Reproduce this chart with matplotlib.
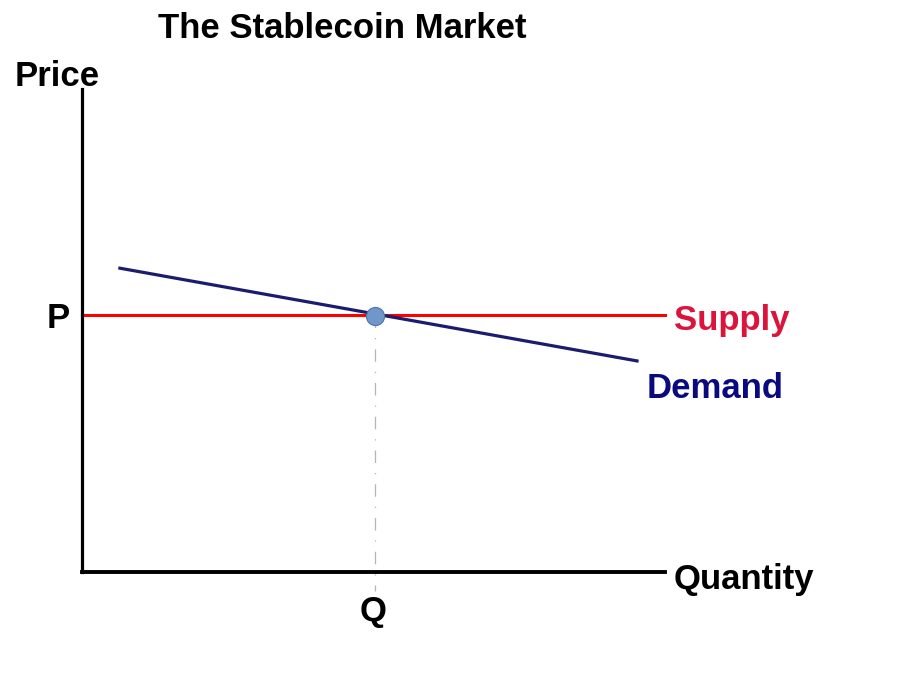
import matplotlib.pyplot as plt

# economic units, axis runs 0..10 both ways
quantity_range = [0, 10]
price_eq = 5.32
qty_eq = 5.03
demand_q = [0.65, 9.52]
demand_p = [6.29, 4.37]
supply_q = [0, 10]
supply_p = [price_eq, price_eq]

plt.rcParams['font.family'] = ['Liberation Sans', 'DejaVu Sans']
plt.rcParams['font.weight'] = 'bold'

W, H = 907, 692
fig = plt.figure(figsize=(W / 100, H / 100), dpi=100)
# axes corner at (82,572) px, top at y=89, right end at x=665
ax = fig.add_axes([82 / W, (H - 572) / H, (665 - 82) / W, (572 - 89) / H])
ax.set_xlim(quantity_range)
ax.set_ylim(0, 10)
ax.set_xticks([])
ax.set_yticks([])
for s in ['top', 'right']:
    ax.spines[s].set_visible(False)
ax.spines['left'].set_linewidth(2.3)
ax.spines['bottom'].set_linewidth(2.8)

ax.plot(supply_q, supply_p, color='#ff0000', lw=2.2, zorder=2, clip_on=False)
ax.plot(demand_q, demand_p, color='#1c1c6e', lw=2.3, zorder=3, clip_on=False)
ax.plot([qty_eq, qty_eq], [price_eq, -0.4], color='#b5b5b5', lw=0.9,
        ls=(0, (10, 8, 1, 8)), zorder=1, clip_on=False)
ax.scatter([qty_eq], [price_eq - 0.03], s=170, color='#6f97cc', edgecolor='#4f74a8',
           lw=0.8, zorder=4, clip_on=False)

fs = 25
fig.text(342 / W, 1 - 28 / H, 'The Stablecoin Market', ha='center', va='center', fontsize=fs)
fig.text(15 / W, 1 - 76 / H, 'Price', ha='left', va='center', fontsize=fs)
fig.text(58 / W, 1 - 318 / H, 'P', ha='center', va='center', fontsize=fs)
fig.text(373 / W, 1 - 611 / H, 'Q', ha='center', va='center', fontsize=fs)
fig.text(674 / W, 1 - 321 / H, 'Supply', ha='left', va='center', fontsize=fs, color='#dc143c')
fig.text(647 / W, 1 - 389 / H, 'Demand', ha='left', va='center', fontsize=fs, color='#0a0a80')
fig.text(674 / W, 1 - 579 / H, 'Quantity', ha='left', va='center', fontsize=fs)

fig.savefig('out.png', dpi=100)
